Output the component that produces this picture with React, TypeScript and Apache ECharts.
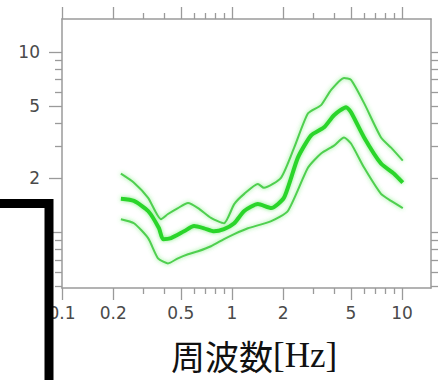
import { useEffect, useRef } from "react";
import * as echarts from "echarts";

// Frequency [Hz] / amplification pairs for the mean curve and its upper / lower bands
const MEAN_CURVE: [number, number][] = [
  [0.222, 1.53], [0.265, 1.49], [0.321, 1.31], [0.372, 1.05], [0.393, 0.914],
  [0.438, 0.926], [0.522, 1.01], [0.598, 1.08], [0.685, 1.05], [0.784, 1.01],
  [0.897, 1.04], [1.03, 1.12], [1.18, 1.31], [1.42, 1.43], [1.7, 1.36],
  [2.02, 1.55], [2.44, 2.59], [2.92, 3.44], [3.48, 3.81], [3.98, 4.45],
  [4.69, 4.93], [5.01, 4.62], [5.98, 3.35], [7.52, 2.4], [8.97, 2.11], [10.1, 1.88],
];

const UPPER_CURVE: [number, number][] = [
  [0.222, 2.11], [0.265, 1.88], [0.321, 1.55], [0.382, 1.18], [0.42, 1.26],
  [0.481, 1.36], [0.551, 1.45], [0.631, 1.36], [0.752, 1.2], [0.897, 1.12],
  [1.03, 1.43], [1.18, 1.63], [1.42, 1.85], [1.54, 1.76], [1.94, 2.0],
  [2.32, 2.94], [2.8, 4.56], [3.34, 5.06], [3.82, 6.13], [4.56, 7.16],
  [5.01, 6.98], [5.98, 5.19], [7.52, 3.35], [8.62, 2.94], [10.1, 2.49],
];

const LOWER_CURVE: [number, number][] = [
  [0.222, 1.18], [0.265, 1.12], [0.321, 0.926], [0.367, 0.716], [0.42, 0.671],
  [0.481, 0.716], [0.551, 0.754], [0.631, 0.783], [0.752, 0.835], [0.897, 0.914],
  [1.03, 0.975], [1.24, 1.05], [1.7, 1.15], [2.13, 1.31], [2.8, 2.28],
  [3.34, 2.73], [3.98, 3.02], [4.56, 3.35], [5.01, 3.1], [5.98, 2.28],
  [7.52, 1.63], [8.62, 1.49], [10.1, 1.36],
];

// Tick positions and labels
const X_MAJOR = [0.1, 0.2, 0.5, 1, 2, 5, 10];
const X_MINOR = [0.3, 0.4, 0.6, 0.7, 0.8, 0.9, 3, 4, 6, 7, 8, 9];
const X_LABELS = [0.1, 0.2, 0.5, 1, 2, 5, 10];
const Y_MAJOR = [1, 2, 5, 10];
const Y_MINOR = [0.5, 0.6, 0.7, 0.8, 0.9, 3, 4, 6, 7, 8, 9];
const Y_LABELS = [1, 2, 5, 10];

const X_RANGE = [0.1, 14.8];
const Y_RANGE = [0.49, 15.2];

const AXIS_COLOR = "#9a9a9a";
const LABEL_STYLE = {
  color: "#4a4a4a",
  fontFamily: "DejaVu Sans",
  fontSize: 17,
};

function xAxis(position: "top" | "bottom", major: boolean, labels: boolean) {
  return {
    type: "log",
    logBase: 10,
    position,
    min: X_RANGE[0],
    max: X_RANGE[1],
    splitLine: { show: false },
    axisLine: { show: major, lineStyle: { color: AXIS_COLOR, width: 1.5 } },
    axisTick: {
      show: true,
      inside: false,
      length: major ? 12 : 6,
      customValues: major ? X_MAJOR : X_MINOR,
      lineStyle: { color: AXIS_COLOR, width: 1.3 },
    },
    axisLabel: labels
      ? {
          show: true,
          customValues: X_LABELS,
          margin: 16,
          formatter: (v: number) => String(v),
          ...LABEL_STYLE,
        }
      : { show: false },
  };
}

function yAxis(position: "left" | "right", major: boolean, labels: boolean) {
  return {
    type: "log",
    logBase: 10,
    position,
    min: Y_RANGE[0],
    max: Y_RANGE[1],
    splitLine: { show: false },
    axisLine: { show: major, lineStyle: { color: AXIS_COLOR, width: 1.5 } },
    axisTick: {
      show: true,
      inside: false,
      length: major ? 13 : 7,
      customValues: major ? Y_MAJOR : Y_MINOR,
      lineStyle: { color: AXIS_COLOR, width: 1.3 },
    },
    axisLabel: labels
      ? {
          show: true,
          customValues: Y_LABELS,
          margin: 22,
          formatter: (v: number) => String(v),
          ...LABEL_STYLE,
        }
      : { show: false },
  };
}

function curve(data: [number, number][], width: number, color: string) {
  return {
    type: "line",
    data,
    xAxisIndex: 0,
    yAxisIndex: 0,
    showSymbol: false,
    symbol: "none",
    smooth: 0.2,
    lineStyle: {
      color,
      width,
      shadowBlur: 4,
      shadowColor: "rgba(80, 230, 80, 0.7)",
    },
    z: 5,
  };
}

export default function App() {
  const ref = useRef<HTMLDivElement>(null);

  useEffect(() => {
    if (!ref.current) return;
    const chart = echarts.init(ref.current, null, { renderer: "svg" });
    chart.setOption({
      animation: false,
      backgroundColor: "#ffffff",
      grid: { left: 62, top: 19, right: 7, bottom: 92, containLabel: false },
      xAxis: [
        xAxis("bottom", true, true),
        xAxis("bottom", false, false),
        xAxis("top", true, false),
        xAxis("top", false, false),
      ],
      yAxis: [
        yAxis("left", true, true),
        yAxis("left", false, false),
        yAxis("right", true, false),
        yAxis("right", false, false),
      ],
      series: [
        curve(UPPER_CURVE, 2, "#4fcf4f"),
        curve(MEAN_CURVE, 4, "#2cd52c"),
        curve(LOWER_CURVE, 2, "#4fcf4f"),
      ],
      graphic: [
        {
          type: "rect",
          z: 100,
          shape: { x: -20, y: 203.5, width: 69, height: 300 },
          style: { fill: "#ffffff", stroke: "#000000", lineWidth: 9 },
        },
        {
          type: "text",
          z: 100,
          x: 171,
          y: 355,
          style: {
            text: "{j|周波数}{s|[Hz]}",
            verticalAlign: "middle",
            fill: "#111",
            rich: {
              j: { fontFamily: "Noto Sans CJK JP", fontSize: 34, lineHeight: 34, fill: "#111" },
              s: { fontFamily: "Liberation Serif", fontSize: 35, lineHeight: 34, fill: "#111" },
            },
          },
        },
      ],
    });
    return () => chart.dispose();
  }, []);

  return (
    <div
      ref={ref}
      style={{ position: "absolute", left: 0, top: 0, width: 438, height: 380 }}
    />
  );
}
